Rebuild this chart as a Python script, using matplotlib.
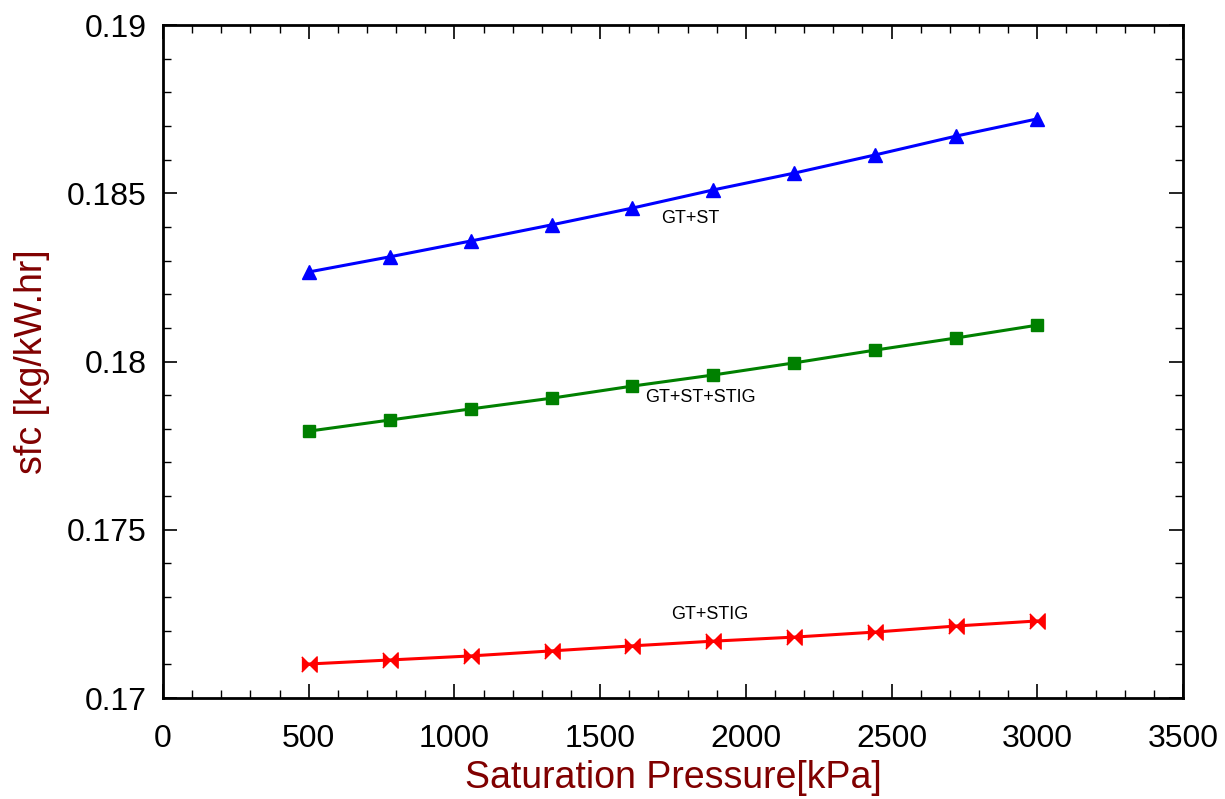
import numpy as np
import matplotlib
matplotlib.use("Agg")
import matplotlib.pyplot as plt
from matplotlib.ticker import MultipleLocator

plt.rcParams['font.family'] = ['Liberation Sans', 'DejaVu Sans']

# saturation pressure [kPa]
pressure = [500, 777.8, 1055.6, 1333.3, 1611.1, 1888.9, 2166.7, 2444.4, 2722.2, 3000]

# sfc [kg/kW.hr]
sfc_gt_st = [0.18266, 0.18311, 0.18358, 0.18406, 0.18456, 0.18510, 0.18560, 0.18614, 0.18670, 0.18721]
sfc_gt_st_stig = [0.17793, 0.17826, 0.17859, 0.17891, 0.17927, 0.17960, 0.17996, 0.18034, 0.18070, 0.18108]
sfc_gt_stig = [0.17101, 0.17113, 0.17125, 0.17140, 0.17155, 0.17169, 0.17181, 0.17196, 0.17214, 0.17229]

labels = ['GT+ST', 'GT+ST+STIG', 'GT+STIG']
label_pos = [(1808, 0.18426), (1843, 0.17892), (1877, 0.17247)]

# bow-tie marker for the red curve
bowtie = [(-1, -1), (1, 1), (1, -1), (-1, 1)]

fig = plt.figure(figsize=(12.25, 7.99), dpi=100)
ax = fig.add_axes([0.133, 0.1264, 0.8327, 0.8423])

ax.plot(pressure, sfc_gt_st, color='blue', lw=2.2, marker='^', ms=10)
ax.plot(pressure, sfc_gt_st_stig, color='green', lw=2.2, marker='s', ms=9)
ax.plot(pressure, sfc_gt_stig, color='red', lw=2.2, marker=bowtie, ms=11)

for txt, (x, y) in zip(labels, label_pos):
    ax.text(x, y, txt, fontsize=13, ha='center', va='center')

ax.set_xlim(0, 3500)
ax.set_ylim(0.17, 0.19)
ax.xaxis.set_major_locator(MultipleLocator(500))
ax.xaxis.set_minor_locator(MultipleLocator(100))
ax.yaxis.set_minor_locator(MultipleLocator(0.001))
ax.set_yticks([0.17, 0.175, 0.18, 0.185, 0.19])
ax.set_yticklabels(['0.17', '0.175', '0.18', '0.185', '0.19'])

ax.tick_params(which='both', direction='in', top=True, right=True, labelsize=23)
ax.tick_params(which='major', length=10, width=1.2)
ax.tick_params(axis='x', which='major', pad=19)
ax.tick_params(axis='y', which='major', pad=12)
ax.tick_params(which='minor', length=6, width=1.0)
for s in ax.spines.values():
    s.set_linewidth(2)

ax.set_xlabel('Saturation Pressure[kPa]', fontsize=27, color='#800000', labelpad=4)
ax.set_ylabel('sfc [kg/kW.hr]', fontsize=27, color='#800000', labelpad=12)

fig.savefig('out.png', dpi=100)
